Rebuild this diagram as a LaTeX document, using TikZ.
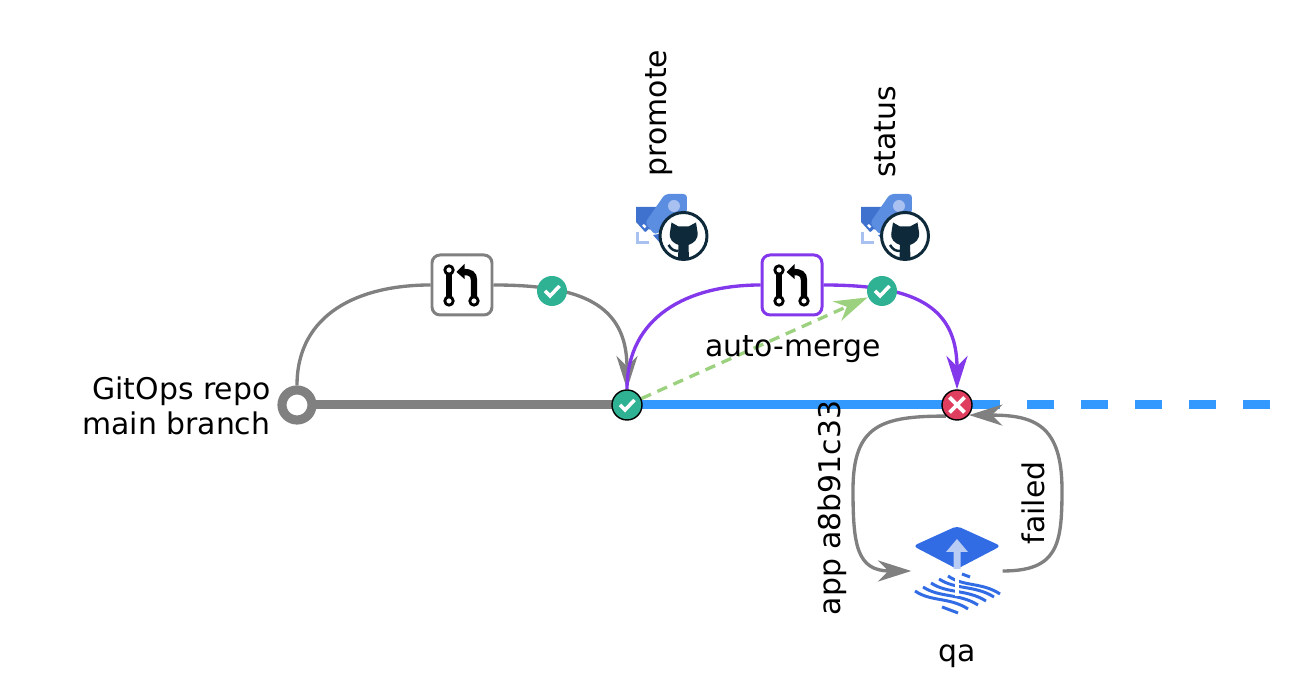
\documentclass[tikz,border=0pt]{standalone}
\usepackage{fontspec}
\setmainfont{DejaVu Sans}
\usetikzlibrary{arrows.meta,backgrounds}
\definecolor{branchgray}{HTML}{808080}
\definecolor{branchblue}{HTML}{3399FF}
\definecolor{prpurple}{HTML}{8338EC}
\definecolor{okgreen}{HTML}{2FB194}
\definecolor{failred}{HTML}{E03E5F}
\definecolor{autogreen}{HTML}{9CD27F}
\definecolor{catdark}{HTML}{0E2A3A}
\definecolor{rocketdark}{HTML}{3F71CF}
\definecolor{rocketmid}{HTML}{5B8DE0}
\definecolor{rocketpale}{HTML}{A9C1F0}
\definecolor{helmblue}{HTML}{326CE5}
\definecolor{helmpale}{HTML}{B8CCF4}
\tikzset{
    txt/.style={font=\fontsize{8.5}{10}\selectfont,text=black,inner sep=0pt},
    prbox/.style={draw,rounded corners=2.3pt,line width=.85pt,fill=white,minimum size=.6cm,inner sep=0pt},
    okdot/.style={circle,fill=okgreen,minimum size=.3cm,inner sep=0pt,
        path picture={\draw[shift={(path picture bounding box.center)},white,line width=1pt]
            (-.07,0) -- (-.02,-.05) -- (.075,.05);}},
    faildot/.style={circle,draw=black,line width=.4pt,fill=failred,minimum size=.3cm,inner sep=0pt,
        path picture={\draw[shift={(path picture bounding box.center)},white,line width=1.1pt]
            (-.075,-.075) -- (.075,.075) (-.075,.075) -- (.075,-.075);}},
    flowline/.style={line width=.95pt},
    flow/.style={flowline,-{Stealth[length=9.5pt,width=6pt,inset=3pt]}},
    prglyph/.pic={
        \begin{scope}[x=.01cm,y=.01cm]
            \draw[black,line width=1.8pt] (-13,15) -- (-13,-16);
            \draw[black,line width=1.8pt] (12,-16) -- (12,5) .. controls (12,11) and (8,13) .. (2,13);
            \fill[black] (-5.5,13) -- (2.5,21) -- (2.5,6) -- cycle;
            \foreach \cx/\cy in {-13/15,-13/-16,12/-16}
                \draw[black,fill=white,line width=.8pt] (\cx,\cy) circle (4.2);
        \end{scope}
    },
    rocketicon/.pic={
        \begin{scope}[x=.01cm,y=.01cm]
            \fill[rocketdark] (-24,11) -- (3,11) -- (3,-5) -- (-15,-14) -- (-24,-4) -- cycle;
            \fill[rocketdark] (-7,-17) -- (0,-25) -- (5,-15) -- cycle;
            \fill[rocketmid,rounded corners=1pt] (5,24) -- (27,24) -- (27,5) -- (-5,-17) -- (-15,-5) -- cycle;
            \fill[rocketpale] (14,12) circle (6);
            \draw[rocketpale,line width=.85pt] (-22.5,-14) -- (-22.5,-24.5) -- (-11,-24.5);
            \draw[white,line width=.7pt,dash pattern=on 1pt off 1pt] (-17,-7) -- (-8,-16);
        \end{scope}
    },
    caticon/.pic={
        \begin{scope}[x=.01cm,y=.01cm]
            \draw[catdark,fill=white,line width=.85pt] (0,0) circle (23.5);
            \fill[catdark] (-12,13.5) -- (-5,9.5) -- (5,9.5) -- (12.5,13.5) -- (14,4)
                .. controls (15,-4) and (10,-7) .. (5,-9) -- (5.5,-23.5) -- (-5.5,-23.5) -- (-5,-9)
                .. controls (-10,-7) and (-15,-4) .. (-13.5,4) -- cycle;
            \draw[catdark,line width=.7pt] (-15,-9) .. controls (-12,-14) and (-9,-15) .. (-5,-15);
        \end{scope}
    },
    helmicon/.pic={
        \begin{scope}[x=.01cm,y=.01cm]
            \fill[helmblue,rounded corners=1.2pt] (-44,25) -- (0,45) -- (44,25) -- (0,2) -- cycle;
            \fill[helmpale] (-3.5,2) -- (-3.5,19) -- (-11,19) -- (0,32) -- (11,19) -- (3.5,19) -- (3.5,2) -- cycle;
            \foreach \sx/\sy/\sw in {-42/-20/53,-34/-16/55,-26/-12/55,-18/-8/55,-9/-5/52}
                \draw[helmblue,line width=.85pt] (\sx,\sy)
                    .. controls (\sx+.3*\sw,\sy-11) and (\sx+.65*\sw,\sy-6) .. (\sx+\sw,\sy-18);
            \draw[helmblue,line width=.85pt] (5,-3) -- (13,-6);
            \draw[helmblue,line width=.85pt] (-15,-36) -- (1,-42);
            \draw[white,line width=1.1pt] (0,-1) -- (0,-25);
        \end{scope}
    }
}
\begin{document}
\begin{tikzpicture}
    \useasboundingbox (0,0) rectangle (12.9,6.82);
    \path   node (root) at (2.97,2.77) [circle,draw=branchgray,line width=2.6pt,fill=white,minimum size=.3cm,inner sep=0pt] {}
            node (merge) at (6.27,2.77) [okdot,draw=black,line width=.4pt] {}
            node (fail) at (9.57,2.77) [faildot] {}
            node (prmain) at (4.62,3.97) [prbox,draw=branchgray] {}
            node (prpromote) at (7.92,3.97) [prbox,draw=prpurple] {}
            node (okmain) at (5.52,3.91) [okdot] {}
            node (okpromote) at (8.82,3.91) [okdot] {}
            node (qaicon) at (9.57,1.11) [minimum width=.9cm,minimum height=.86cm,inner sep=0pt] {};
    \coordinate (solidend) at (10,2.77);
    \coordinate (dashstart) at (10.27,2.77);
    \coordinate (branchend) at (12.7,2.77);
    \coordinate (appbend) at (8.53,1.92);
    \coordinate (failbend) at (10.62,1.92);
    \begin{scope}[on background layer]
        \draw[branchgray,line width=2.56pt] (root.center) -- (merge.center);
        \draw[branchblue,line width=2.56pt] (merge.center) -- (solidend);
        \draw[branchblue,line width=2.56pt,dash pattern=on .27cm off .27cm] (dashstart) -- (branchend);
        \draw[flowline,branchgray] (root.north) to[out=90,in=180,looseness=1.1] (prmain.west);
        \draw[flow,branchgray] (prmain.east) to[out=0,in=90,looseness=1.3] (merge.north);
        \draw[flowline,prpurple] (merge.north) to[out=90,in=180,looseness=1.1] (prpromote.west);
        \draw[flow,prpurple] (prpromote.east) to[out=0,in=90,looseness=1.3] (fail.north);
        \draw[flow,autogreen,dash pattern=on 3pt off 2pt] (merge) -- (okpromote);
        \draw[flow,branchgray] (fail.-135) to[out=180,in=90,looseness=1.4] (appbend) to[out=-90,in=180,looseness=1.4] (qaicon.west);
        \draw[flow,branchgray] (qaicon.east) to[out=0,in=-90,looseness=1.4] (failbend) to[out=90,in=0,looseness=1.4] (fail.-40);
    \end{scope}
    \path   pic at (prmain) {prglyph}
            pic at (prpromote) {prglyph}
            pic at (6.60,4.64) {rocketicon}
            pic at (8.85,4.64) {rocketicon}
            pic at (6.835,4.46) {caticon}
            pic at (9.05,4.46) {caticon}
            pic at (qaicon) {helmicon};
    \path   node (repolabel) at (2.71,2.76) [txt,anchor=east,align=right] {GitOps repo\\main branch}
            node (promotelabel) at (6.59,5.69) [txt,rotate=90] {promote}
            node (statuslabel) at (8.85,5.50) [txt,rotate=90] {status}
            node (mergelabel) at (7.93,3.33) [txt] {auto-merge}
            node (applabel) at (8.32,1.74) [txt,rotate=90] {app a8b91c33}
            node (failedlabel) at (10.33,1.79) [txt,rotate=90] {failed}
            node (qalabel) at (9.57,0.26) [txt] {qa};
\end{tikzpicture}
\end{document}
